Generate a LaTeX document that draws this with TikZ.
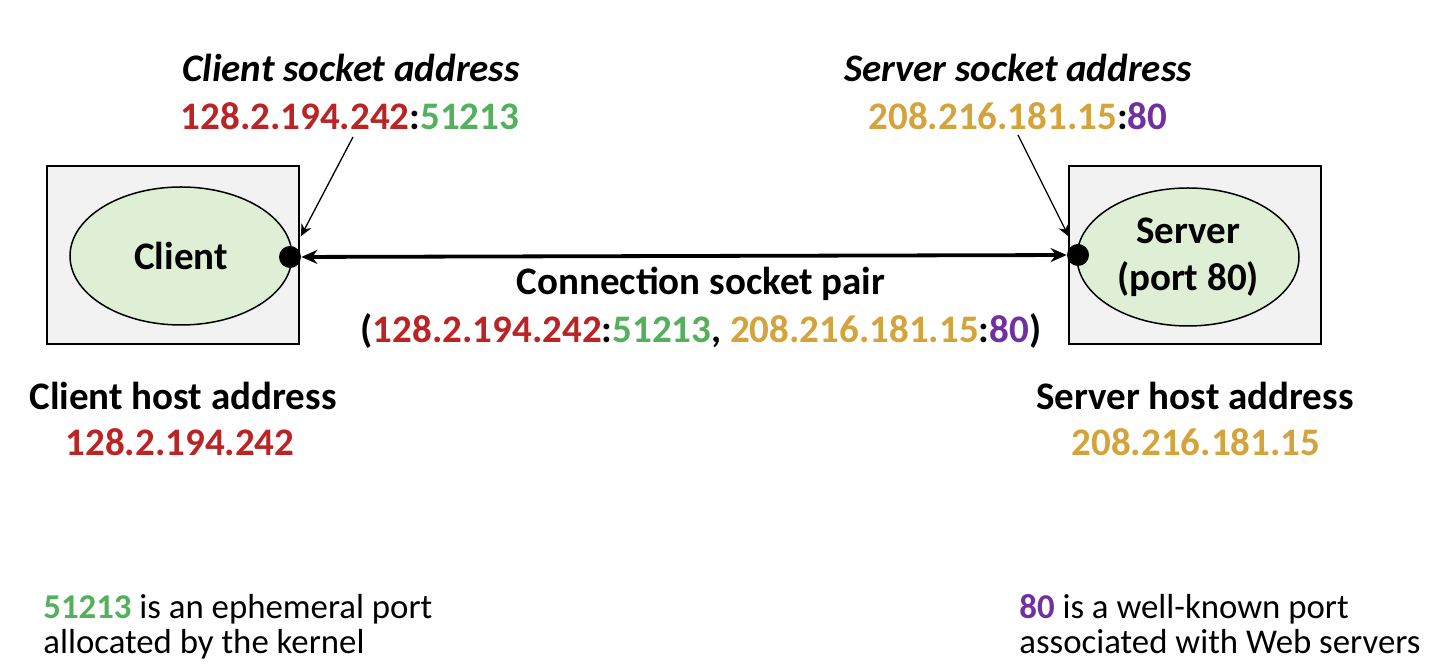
\documentclass[tikz,border=0pt]{standalone}
\usepackage{fontspec}
\setmainfont{Carlito}
\usetikzlibrary{arrows.meta,shapes.geometric}

\definecolor{ipred}{RGB}{186,36,36}
\definecolor{ipgreen}{RGB}{84,176,92}
\definecolor{ipgold}{RGB}{212,163,60}
\definecolor{ippurple}{RGB}{112,48,160}
\definecolor{boxgray}{RGB}{242,242,242}
\definecolor{procgreen}{RGB}{222,239,214}

\begin{document}
\begin{tikzpicture}[x=0.5pt,y=-0.5pt,
  lbl/.style={inner sep=0pt, anchor=base, font=\fontsize{19.5}{23}\selectfont\bfseries},
  ilbl/.style={lbl, font=\fontsize{19.5}{23}\selectfont\bfseries\itshape},
  note/.style={inner sep=0pt, anchor=base west, font=\fontsize{17.4}{17.5}\selectfont},
  hostbox/.style={draw, fill=boxgray, line width=1pt, minimum width=126pt, minimum height=89pt, inner sep=0pt},
  proc/.style={ellipse, draw, fill=procgreen, line width=0.75pt, minimum width=111pt, minimum height=69pt,
    inner sep=0pt, align=center, font=\fontsize{19.5}{23.5}\selectfont\bfseries},
  sock/.style={circle, fill=black, minimum size=11pt, inner sep=0pt},
  pointer/.style={-{Stealth[length=6pt,width=5.5pt]}, line width=0.65pt},
  link/.style={{Stealth[length=8pt,width=7pt]}-{Stealth[length=8pt,width=7pt]}, line width=1.9pt}
]
\useasboundingbox (0,0) rectangle (1432,672);

% hosts and their processes
\node[hostbox] (cbox) at (173,255) {};
\node[hostbox] (sbox) at (1194.5,255) {};
\node[proc] (client) at (181,256) {Client};
\node[proc] (server) at (1188,257) {Server\\(port 80)};

% socket end points
\node[sock] (cdot) at (290,257) {};
\node[sock] (sdot) at (1078,255) {};

% connection between the two sockets
\draw[link] (cdot) -- (sdot);

% socket addresses
\node[ilbl] (caddrtitle) at (351,82) {Client socket address};
\node[lbl] (caddr) at (350,130) {\textcolor{ipred}{128.2.194.242}:\textcolor{ipgreen}{51213}};
\node[ilbl] (saddrtitle) at (1018,82) {Server socket address};
\node[lbl] (saddr) at (1018,130) {\textcolor{ipgold}{208.216.181.15}:\textcolor{ippurple}{80}};

\coordinate (cfrom) at (353,137);
\coordinate (sfrom) at (1018,135);
\draw[pointer, shorten >=6pt] (cfrom) -- (cdot);
\draw[pointer, shorten >=4.5pt] (sfrom) -- (sdot);

% socket pair
\node[lbl] (pairtitle) at (701,295) {Connection socket pair};
\node[lbl] (pair) at (701,343) {(\textcolor{ipred}{128.2.194.242}:\textcolor{ipgreen}{51213}, \textcolor{ipgold}{208.216.181.15}:\textcolor{ippurple}{80})};

% host addresses
\node[lbl] (chosttitle) at (183,410) {Client host address};
\node[lbl] (chost) at (180,456) {\textcolor{ipred}{128.2.194.242}};
\node[lbl] (shosttitle) at (1195,410) {Server host address};
\node[lbl] (shost) at (1196,456) {\textcolor{ipgold}{208.216.181.15}};

% notes on the port numbers
\node[note] (cnote1) at (43,619) {\textbf{\textcolor{ipgreen}{51213}} is an ephemeral port};
\node[note] (cnote2) at (43,654) {allocated by the kernel};
\node[note] (snote1) at (1019,619) {\textbf{\textcolor{ippurple}{80}} is a well-known port};
\node[note] (snote2) at (1019,654) {associated with Web servers};
\end{tikzpicture}
\end{document}
